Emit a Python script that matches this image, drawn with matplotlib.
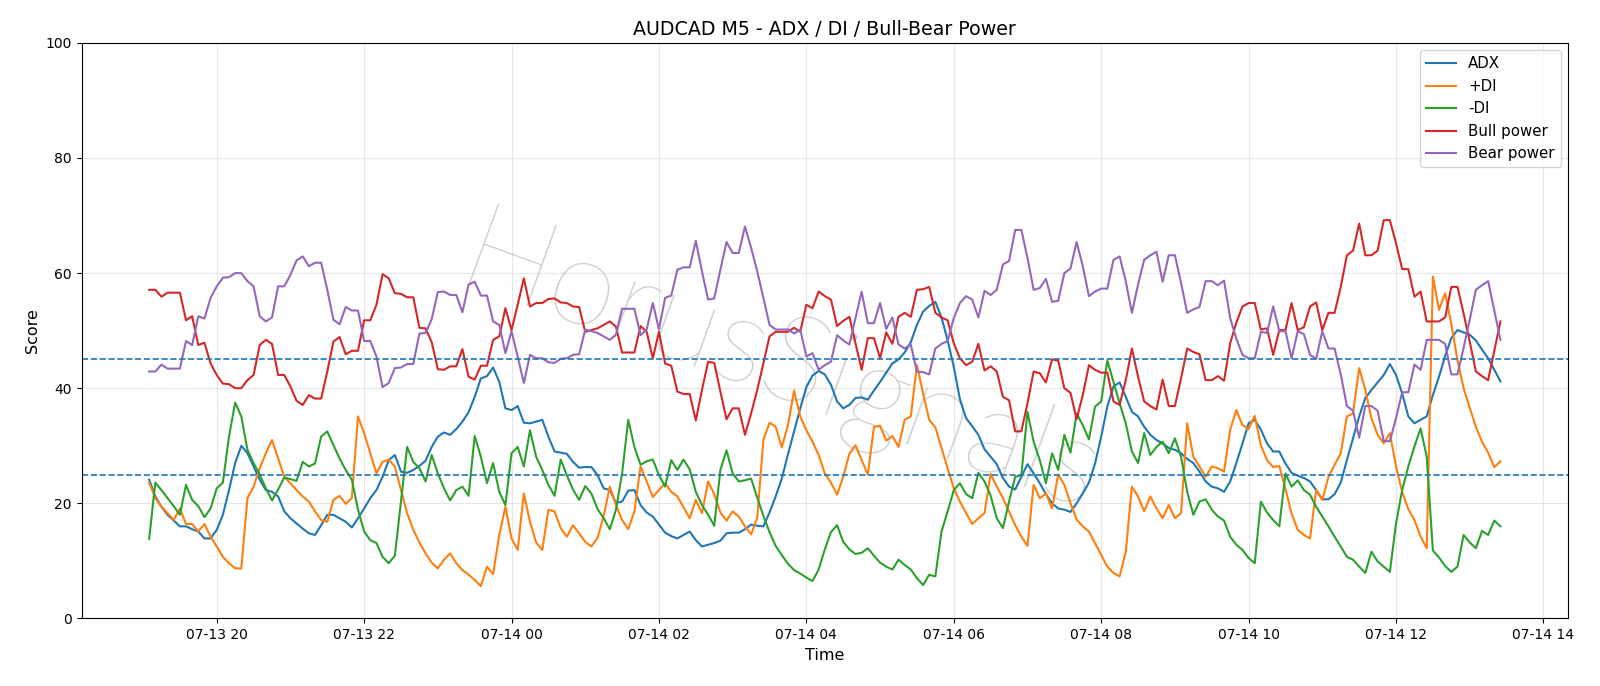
import matplotlib
matplotlib.use('Agg')
import matplotlib.pyplot as plt
import matplotlib.dates as mdates
import pandas as pd

# 5-minute bars, AUDCAD M5, starting 07-13 19:05
start = '2025-07-13 19:05'

adx = [24.1, 21.2, 19.4, 18.0, 17.0, 16.0, 16.0, 15.5, 15.1, 13.9,
       13.9, 15.4, 18.0, 22.3, 27.0, 30.0, 28.7, 26.4, 24.1, 22.3,
       22.0, 21.2, 18.6, 17.4, 16.5, 15.6, 14.8, 14.5, 16.2, 18.0,
       18.0, 17.4, 16.8, 15.8, 17.4, 19.1, 20.9, 22.3, 24.6, 27.5,
       28.4, 25.5, 25.3, 25.8, 26.5, 27.4, 29.8, 31.6, 32.3, 31.9,
       32.9, 34.2, 35.8, 38.5, 41.7, 42.1, 43.6, 41.1, 36.5, 36.2,
       36.9, 34.0, 33.9, 34.2, 34.5, 31.6, 29.0, 28.8, 28.6, 27.2,
       26.2, 26.3, 26.3, 24.9, 22.6, 22.3, 20.1, 20.3, 22.2, 22.3,
       19.7, 18.4, 17.7, 16.3, 14.9, 14.3, 13.9, 14.5, 15.1, 13.6,
       12.5, 12.8, 13.1, 13.5, 14.8, 14.9, 14.9, 15.5, 16.3, 16.1,
       16.0, 18.4, 21.2, 24.3, 28.5, 32.5, 36.5, 40.2, 42.2, 43.0,
       42.4, 40.6, 37.7, 36.5, 37.1, 38.3, 38.4, 38.0, 39.6, 41.1,
       42.7, 44.3, 45.0, 46.2, 48.0, 51.0, 53.3, 54.3, 55.0, 52.3,
       48.3, 43.7, 38.1, 34.8, 33.4, 31.9, 29.4, 28.1, 26.8, 24.4,
       22.9, 22.4, 24.6, 26.8, 25.2, 23.5, 21.6, 20.0, 19.1, 18.9,
       18.5, 20.0, 21.7, 23.6, 26.9, 31.6, 36.8, 40.3, 41.0, 38.5,
       35.9, 35.1, 33.3, 31.9, 31.0, 30.4, 29.6, 29.3, 28.7, 27.7,
       27.0, 25.5, 23.8, 22.9, 22.6, 22.0, 23.8, 27.0, 30.4, 33.9,
       34.5, 32.8, 30.4, 29.0, 29.0, 26.9, 25.3, 24.8, 24.4, 23.8,
       22.3, 20.7, 20.7, 21.6, 23.6, 27.5, 31.3, 35.1, 38.3, 39.7,
       41.0, 42.3, 44.2, 42.3, 39.1, 35.1, 33.9, 34.5, 35.1, 38.8,
       42.0, 45.6, 48.7, 50.1, 49.7, 49.3, 48.3, 46.7, 45.2, 43.2,
       41.2]

plus_di = [23.6, 20.9, 19.4, 18.3, 17.1, 19.1, 16.4, 16.4, 15.1, 16.4,
           14.2, 12.5, 10.7, 9.6, 8.7, 8.7, 20.9, 22.9, 26.1, 28.7,
           31.0, 27.8, 24.6, 23.5, 22.3, 21.2, 20.3, 18.6, 17.1, 16.8,
           20.6, 21.3, 19.9, 20.9, 35.1, 32.2, 28.7, 25.2, 27.2, 27.6,
           26.4, 22.3, 18.3, 15.4, 13.2, 11.3, 9.7, 8.7, 10.2, 11.3,
           9.6, 8.4, 7.6, 6.7, 5.6, 9.0, 7.7, 14.5, 19.4, 13.9,
           11.9, 21.7, 16.8, 13.2, 11.9, 18.9, 18.6, 15.7, 14.2, 16.2,
           14.8, 13.3, 12.5, 14.0, 17.8, 22.9, 19.7, 17.1, 15.5, 18.6,
           26.4, 23.8, 21.1, 22.3, 23.5, 22.0, 21.2, 19.3, 17.4, 20.6,
           18.3, 23.8, 21.6, 18.4, 17.0, 18.6, 17.7, 16.0, 14.6, 17.5,
           31.0, 34.0, 33.3, 29.7, 33.6, 39.6, 35.1, 32.7, 30.7, 28.4,
           25.2, 23.6, 21.5, 24.6, 28.6, 30.1, 27.5, 25.0, 33.3, 33.5,
           30.9, 31.7, 29.8, 34.5, 35.1, 44.0, 39.1, 34.5, 33.2, 29.6,
           26.1, 22.6, 20.3, 18.3, 16.4, 17.4, 18.3, 25.1, 22.9, 20.9,
           18.6, 16.2, 14.2, 12.6, 23.2, 20.9, 21.7, 19.1, 25.0, 23.2,
           20.0, 17.2, 16.0, 15.1, 13.1, 11.0, 9.0, 7.9, 7.3, 11.6,
           22.9, 21.2, 18.6, 21.2, 19.1, 17.4, 19.7, 17.4, 18.3, 33.9,
           28.1, 26.4, 24.6, 26.4, 26.1, 25.5, 32.8, 36.2, 33.6, 32.9,
           35.2, 30.1, 27.5, 26.3, 26.5, 22.5, 18.2, 15.4, 14.5, 13.9,
           22.3, 20.6, 24.6, 26.7, 28.7, 35.1, 35.6, 43.5, 39.7, 34.8,
           31.9, 30.4, 32.2, 26.4, 22.0, 19.0, 17.1, 14.2, 12.2, 59.4,
           53.6, 56.5, 51.2, 44.9, 40.0, 36.6, 33.3, 30.7, 28.8, 26.3,
           27.3]

minus_di = [13.8, 23.6, 22.3, 20.9, 19.5, 18.0, 23.2, 20.6, 19.5, 17.6,
            19.1, 22.6, 23.6, 31.6, 37.5, 35.1, 29.3, 27.0, 25.0, 22.6,
            20.5, 22.4, 24.5, 24.2, 23.9, 27.2, 26.4, 26.9, 31.6, 32.5,
            30.1, 27.8, 25.8, 24.1, 18.9, 15.1, 13.6, 13.1, 10.7, 9.6,
            10.9, 20.3, 29.8, 27.2, 26.1, 23.8, 28.4, 25.2, 22.6, 20.5,
            22.3, 22.9, 21.3, 31.7, 28.1, 23.5, 27.0, 22.0, 19.7, 28.7,
            29.8, 26.4, 32.7, 28.1, 25.8, 23.2, 21.3, 27.6, 24.9, 22.4,
            20.6, 23.0, 21.7, 19.0, 17.4, 15.5, 18.9, 25.2, 34.5, 29.8,
            26.7, 27.3, 27.6, 24.9, 22.9, 27.5, 25.8, 27.6, 25.9, 22.0,
            19.7, 18.0, 16.1, 25.8, 29.2, 25.2, 23.8, 24.0, 24.3, 21.0,
            17.8, 15.0, 12.6, 11.0, 9.5, 8.4, 7.8, 7.1, 6.5, 8.5,
            12.0, 15.0, 16.2, 13.3, 12.0, 11.2, 11.4, 12.2, 10.9, 9.7,
            9.0, 8.5, 10.2, 9.3, 8.5, 7.0, 5.8, 7.6, 7.3, 15.1,
            18.6, 22.3, 23.5, 21.6, 20.9, 25.3, 23.8, 21.3, 17.4, 15.7,
            20.3, 24.6, 24.9, 35.9, 30.7, 27.5, 23.5, 28.7, 25.8, 31.9,
            28.8, 35.6, 33.6, 31.1, 36.8, 37.7, 44.8, 41.1, 37.4, 33.9,
            29.0, 27.0, 32.2, 28.4, 29.8, 30.7, 28.7, 31.3, 28.1, 22.0,
            18.0, 20.3, 20.7, 18.9, 17.7, 17.0, 14.2, 12.8, 11.9, 10.5,
            9.6, 20.3, 18.4, 17.1, 16.0, 25.2, 22.9, 24.0, 22.3, 21.5,
            19.4, 17.7, 16.0, 14.2, 12.5, 10.7, 10.2, 9.0, 7.9, 11.6,
            9.9, 9.0, 8.1, 16.5, 22.3, 26.4, 29.9, 33.0, 28.1, 11.8,
            10.6, 9.1, 8.1, 9.0, 14.5, 13.2, 12.2, 15.2, 14.5, 17.0,
            16.0]

bull = [57.1, 57.1, 55.9, 56.6, 56.6, 56.6, 51.8, 52.5, 47.5, 47.9,
        44.3, 42.3, 40.8, 40.7, 40.0, 40.0, 41.4, 42.3, 47.5, 48.4,
        47.7, 42.3, 42.3, 40.3, 37.8, 37.1, 38.8, 38.2, 38.2, 42.9,
        48.1, 48.9, 45.9, 46.5, 46.5, 51.8, 51.8, 54.5, 59.8, 59.1,
        56.5, 56.4, 55.8, 55.8, 50.5, 50.4, 48.0, 43.3, 43.2, 43.8,
        43.8, 46.8, 42.0, 41.5, 43.9, 43.9, 48.4, 49.0, 53.9, 50.1,
        54.5, 59.1, 54.2, 54.8, 54.8, 55.5, 55.6, 54.9, 54.8, 54.2,
        54.1, 49.8, 50.1, 50.4, 51.0, 51.6, 50.7, 46.2, 46.2, 46.2,
        50.8, 49.8, 45.2, 49.8, 44.3, 43.9, 39.4, 39.0, 39.0, 34.4,
        39.7, 44.6, 44.4, 39.4, 34.6, 36.5, 36.5, 31.9, 35.6, 39.7,
        44.3, 49.0, 49.8, 49.8, 49.8, 50.5, 49.8, 54.5, 53.9, 56.8,
        56.0, 55.4, 50.8, 51.7, 52.4, 47.8, 43.2, 48.7, 48.7, 45.2,
        49.7, 47.7, 52.4, 53.1, 52.4, 57.1, 57.2, 57.6, 53.1, 52.3,
        51.8, 47.8, 45.2, 44.0, 44.6, 47.7, 43.1, 43.8, 42.9, 38.5,
        37.9, 32.5, 32.5, 37.4, 42.9, 42.6, 41.0, 45.0, 44.8, 40.0,
        39.2, 34.6, 38.8, 44.0, 43.2, 42.7, 42.7, 37.7, 37.1, 41.4,
        46.9, 42.0, 37.7, 36.9, 36.3, 41.5, 36.9, 36.9, 41.7, 46.9,
        46.3, 45.9, 41.4, 41.4, 42.1, 41.3, 47.8, 51.4, 54.2, 54.8,
        54.8, 50.2, 50.4, 45.8, 50.1, 50.1, 54.8, 50.1, 50.6, 54.2,
        54.9, 50.1, 53.1, 53.1, 57.6, 63.1, 63.9, 68.6, 63.1, 63.1,
        63.9, 69.2, 69.2, 65.2, 60.7, 60.7, 55.9, 56.8, 51.6, 51.6,
        51.6, 52.3, 57.6, 57.6, 53.0, 48.1, 42.9, 42.1, 41.4, 46.5,
        51.6]

bear = [42.9, 42.9, 44.1, 43.4, 43.4, 43.4, 48.2, 47.5, 52.5, 52.1,
        55.7, 57.7, 59.2, 59.3, 60.0, 60.0, 58.6, 57.7, 52.5, 51.6,
        52.3, 57.7, 57.7, 59.7, 62.2, 62.9, 61.2, 61.8, 61.8, 57.1,
        51.9, 51.1, 54.1, 53.5, 53.5, 48.2, 48.2, 45.5, 40.2, 40.9,
        43.5, 43.6, 44.2, 44.2, 49.5, 49.6, 52.0, 56.7, 56.8, 56.2,
        56.2, 53.2, 58.0, 58.5, 56.1, 56.1, 51.6, 51.0, 46.1, 49.9,
        45.5, 40.9, 45.8, 45.2, 45.2, 44.5, 44.4, 45.1, 45.2, 45.8,
        45.9, 50.2, 49.9, 49.6, 49.0, 48.4, 49.3, 53.8, 53.8, 53.8,
        49.2, 50.2, 54.8, 50.2, 55.7, 56.1, 60.6, 61.0, 61.0, 65.6,
        60.3, 55.4, 55.6, 60.6, 65.4, 63.5, 63.5, 68.1, 64.4, 60.3,
        55.7, 51.0, 50.2, 50.2, 50.2, 49.5, 50.2, 45.5, 46.1, 43.2,
        44.0, 44.6, 49.2, 48.3, 47.6, 52.2, 56.8, 51.3, 51.3, 54.8,
        50.3, 52.3, 47.6, 46.9, 47.6, 42.9, 42.8, 42.4, 46.9, 47.7,
        48.2, 52.2, 54.8, 56.0, 55.4, 52.3, 56.9, 56.2, 57.1, 61.5,
        62.1, 67.5, 67.5, 62.6, 57.1, 57.4, 59.0, 55.0, 55.2, 60.0,
        60.8, 65.4, 61.2, 56.0, 56.8, 57.3, 57.3, 62.3, 62.9, 58.6,
        53.1, 58.0, 62.3, 63.1, 63.7, 58.5, 63.1, 63.1, 58.3, 53.1,
        53.7, 54.1, 58.6, 58.6, 57.9, 58.7, 52.2, 48.6, 45.8, 45.2,
        45.2, 49.8, 49.6, 54.2, 49.9, 49.9, 45.2, 49.9, 49.4, 45.8,
        45.1, 49.9, 46.9, 46.9, 42.4, 36.9, 36.1, 31.4, 36.9, 36.9,
        36.1, 30.8, 30.8, 34.8, 39.3, 39.3, 44.1, 43.2, 48.4, 48.4,
        48.4, 47.7, 42.4, 42.4, 47.0, 51.9, 57.1, 57.9, 58.6, 53.5,
        48.4]

times = pd.date_range(start, periods=len(adx), freq='5min')

fig, ax = plt.subplots(figsize=(16, 6.86), dpi=100)
fig.subplots_adjust(left=0.051, right=0.980, bottom=0.0985, top=0.9375)

# watermark
ax.text(0.47, 0.435, 'HorusSignals', transform=ax.transAxes,
        fontsize=88, color='gray', alpha=0.4, rotation=-20,
        ha='center', va='center', fontweight='ultralight',
        family=['Lato', 'Roboto', 'DejaVu Sans'], zorder=0)

ax.plot(times, adx, label='ADX')
ax.plot(times, plus_di, label='+DI')
ax.plot(times, minus_di, label='-DI')
ax.plot(times, bull, label='Bull power')
ax.plot(times, bear, label='Bear power')

ax.axhline(25, color='C0', linestyle='--', linewidth=1.2)
ax.axhline(45, color='C0', linestyle='--', linewidth=1.2)

ax.set_ylim(0, 100)
ax.xaxis.set_major_locator(mdates.HourLocator(byhour=range(0, 24, 2)))
ax.xaxis.set_major_formatter(mdates.DateFormatter('%m-%d %H'))

ax.set_title('AUDCAD M5 - ADX / DI / Bull-Bear Power', fontsize=13.7)
ax.set_xlabel('Time', fontsize=11.5)
ax.set_ylabel('Score', fontsize=11.5)
ax.grid(True, alpha=0.3)
ax.legend(loc='upper right', fontsize=10.8)

fig.savefig('out.png', dpi=100)
